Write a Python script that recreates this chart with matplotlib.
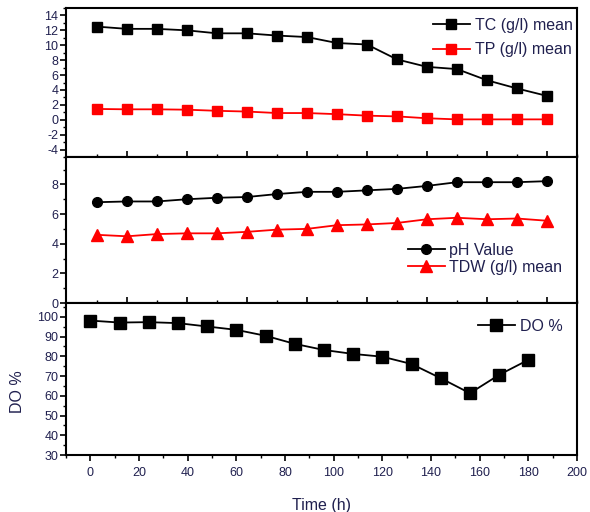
import matplotlib
matplotlib.use("Agg")
import matplotlib.pyplot as plt
from matplotlib.ticker import MultipleLocator, FixedLocator

plt.rcParams['font.family'] = ['Liberation Sans', 'DejaVu Sans']
plt.rcParams['axes.unicode_minus'] = False

time_h = [0, 12, 24, 36, 48, 60, 72, 84, 96, 108, 120, 132, 144, 156, 168, 180]
tc_mean = [12.5, 12.2, 12.2, 12.0, 11.6, 11.6, 11.3, 11.1, 10.3, 10.1, 8.1, 7.1, 6.8, 5.3, 4.2, 3.2]
tp_mean = [1.45, 1.4, 1.4, 1.35, 1.2, 1.1, 0.9, 0.9, 0.75, 0.55, 0.45, 0.2, 0.05, 0.05, 0.05, 0.05]
ph_value = [6.8, 6.85, 6.85, 7.0, 7.1, 7.15, 7.35, 7.5, 7.5, 7.6, 7.7, 7.9, 8.15, 8.15, 8.15, 8.22]
tdw_mean = [4.6, 4.5, 4.65, 4.7, 4.7, 4.8, 4.95, 5.0, 5.25, 5.3, 5.4, 5.65, 5.75, 5.65, 5.7, 5.55]
do_pct = [98.1, 97.1, 97.3, 96.8, 95.1, 93.4, 90.4, 86.3, 83.2, 81.2, 79.8, 76.1, 68.9, 61.3, 70.6, 78.2]

txt = '#20204f'

fig = plt.figure(figsize=(5.9, 5.12), dpi=100)
gs = fig.add_gridspec(3, 1, left=66/590, right=577/590, bottom=(512-455)/512,
                      top=1-8/512, hspace=0, height_ratios=[149, 146, 152])
ax1 = fig.add_subplot(gs[0])
ax2 = fig.add_subplot(gs[1])
ax3 = fig.add_subplot(gs[2])

for ax in (ax1, ax2, ax3):
    for s in ax.spines.values():
        s.set_linewidth(1.5)
    ax.tick_params(axis='y', which='major', direction='out', length=4, width=1.2,
                   labelsize=9, labelcolor=txt, pad=1.5)
    ax.tick_params(axis='y', which='minor', direction='out', length=2.5, width=1.0)
    ax.tick_params(top=False, right=False)

# top panel
ax1.plot(time_h, tc_mean, color='black', marker='s', markersize=7, lw=1.3, label='TC (g/l) mean')
ax1.plot(time_h, tp_mean, color='#ff0000', marker='s', markersize=7, lw=1.3, label='TP (g/l) mean')
ax1.set_ylim(-5, 15)
ax1.yaxis.set_major_locator(FixedLocator([-4, -2, 0, 2, 4, 6, 8, 10, 12, 14]))
ax1.yaxis.set_minor_locator(MultipleLocator(1))

# middle panel
ax2.plot(time_h, ph_value, color='black', marker='o', markersize=7, lw=1.3, label='pH Value')
ax2.plot(time_h, tdw_mean, color='#ff0000', marker='^', markersize=8, lw=1.3, label='TDW (g/l) mean')
ax2.set_ylim(0, 9.85)
ax2.yaxis.set_major_locator(MultipleLocator(2))
ax2.yaxis.set_minor_locator(MultipleLocator(1))

for ax in (ax1, ax2):
    ax.set_xlim(-12.4, 192)
    ax.xaxis.set_major_locator(FixedLocator([12, 36, 60, 84, 108, 132, 156, 180]))
    ax.xaxis.set_minor_locator(FixedLocator([0, 24, 48, 72, 96, 120, 144, 168, 192]))
    ax.tick_params(axis='x', which='major', direction='in', length=4, width=1.2, labelbottom=False)
    ax.tick_params(axis='x', which='minor', direction='in', length=2.5, width=1.0)

# bottom panel
ax3.plot(time_h, do_pct, color='black', marker='s', markersize=8, lw=1.3, label='DO %')
ax3.set_xlim(-10, 200)
ax3.set_ylim(30, 107)
ax3.xaxis.set_major_locator(MultipleLocator(20))
ax3.xaxis.set_minor_locator(MultipleLocator(10))
ax3.yaxis.set_major_locator(MultipleLocator(10))
ax3.yaxis.set_minor_locator(MultipleLocator(5))
ax3.tick_params(axis='x', which='major', direction='out', length=4, width=1.2,
                labelsize=9, labelcolor=txt, pad=5)
ax3.tick_params(axis='x', which='minor', direction='out', length=2.5, width=1.0)
ax3.set_xlabel('Time (h)', fontsize=11.5, color=txt, labelpad=13)
ax3.set_ylabel('DO %', fontsize=11.5, color=txt, labelpad=10)
ax3.yaxis.set_label_coords(-0.08, 0.42)

leg_kw = dict(frameon=False, handlelength=2.3, handletextpad=0.3, borderaxespad=0.2,
              labelcolor=txt)
ax1.legend(loc='upper right', fontsize=11.5, labelspacing=0.6, bbox_to_anchor=(1.01, 1.0), **leg_kw)
ax2.legend(loc='upper right', fontsize=11.5, labelspacing=0.15, bbox_to_anchor=(0.99, 0.48), **leg_kw)
ax3.legend(loc='upper right', fontsize=11.5, bbox_to_anchor=(0.99, 0.96), **leg_kw)

fig.savefig('out.png', dpi=100)
